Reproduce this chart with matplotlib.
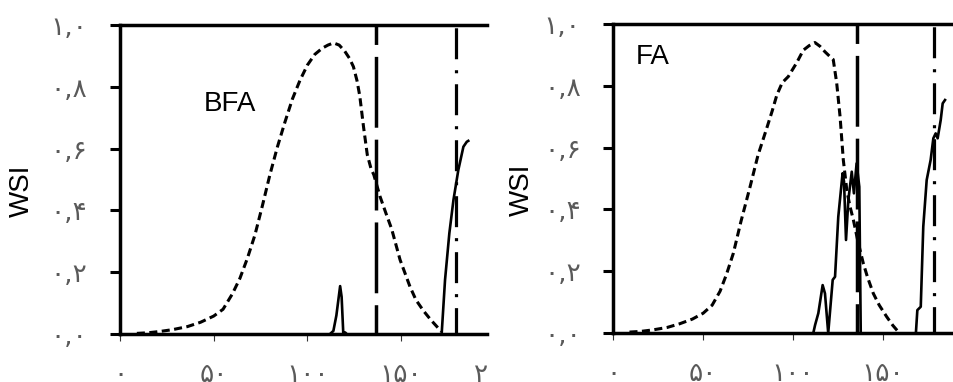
import matplotlib
matplotlib.use('Agg')
import matplotlib.pyplot as plt
from matplotlib.transforms import Bbox

plt.rcParams['lines.scale_dashes'] = False

# ---------------- data ----------------
y_ticks = [0.0, 0.2, 0.4, 0.6, 0.8, 1.0]
y_tick_labels = ['۰,۰', '۰,۲', '۰,۴', '۰,۶', '۰,۸', '۱,۰']
x_ticks = [0, 50, 100, 150]
x_tick_labels = ['۰', '۵۰', '۱۰۰', '۱۵۰']
x_extra_tick = 200
x_extra_label = '۲۰۰'
y_label = 'WSI'
panel_titles = ['BFA', 'FA']

# BFA panel
bfa_dash_x = [9, 15, 21, 28, 36, 43, 50, 55, 60, 64, 68, 72, 76, 80, 84, 88, 92, 96, 100, 104, 108,
              111, 114, 117, 120, 122.5, 124.6, 126.5, 128, 130, 132, 134, 135.5, 138.8, 142, 145,
              149.5, 154.8, 158, 162, 166, 169, 171.5]
bfa_dash_y = [0.002, 0.004, 0.008, 0.014, 0.024, 0.038, 0.058, 0.08, 0.13, 0.18, 0.245, 0.32, 0.415,
              0.515, 0.605, 0.685, 0.76, 0.82, 0.87, 0.905, 0.925, 0.935, 0.942, 0.935, 0.915, 0.892,
              0.865, 0.82, 0.77, 0.67, 0.58, 0.535, 0.515, 0.445, 0.39, 0.34, 0.24, 0.153, 0.11, 0.075,
              0.045, 0.025, 0.008]
bfa_solid1_x = [112.1, 113.9, 115.5, 117.5, 118.3, 119.2, 120.2, 121]
bfa_solid1_y = [0.0, 0.01, 0.06, 0.155, 0.12, 0.0, 0.005, 0.0]
bfa_solid2_x = [171.7, 173.5, 175.8, 178, 180.6, 183.3, 185.1, 185.9]
bfa_solid2_y = [0.0, 0.175, 0.326, 0.434, 0.531, 0.606, 0.622, 0.625]
bfa_vdash = 136.5
bfa_vdashdot = 179.4

# FA panel
fa_dash_x = [9, 15, 22, 30, 37, 44, 50, 55, 59.4, 63, 66.8, 71, 76.1, 80.5, 85.4, 88.5, 91, 94, 97.4,
             100, 102.1, 105.7, 109, 112.2, 115, 117.8, 120.5, 122.4, 124.3, 126.2, 128, 130, 131.7,
             133.6, 136, 139.1, 141.5, 144.7, 148, 152.1, 155.5, 158.6]
fa_dash_y = [0.003, 0.005, 0.01, 0.018, 0.03, 0.045, 0.064, 0.09, 0.135, 0.19, 0.258, 0.36, 0.473,
             0.575, 0.663, 0.72, 0.77, 0.81, 0.83, 0.855, 0.875, 0.915, 0.93, 0.94, 0.928, 0.91, 0.895,
             0.885, 0.81, 0.7, 0.56, 0.46, 0.41, 0.366, 0.3, 0.226, 0.18, 0.128, 0.09, 0.053, 0.025,
             0.004]
fa_solid1_x = [111.3, 112.3, 114.1, 116.5, 117.8, 119.6, 122.1, 123.4, 125.2, 127.6, 128.4, 129.5,
               130.8, 132.7, 133.9, 135.4, 136.9, 137.7]
fa_solid1_y = [0.0, 0.026, 0.064, 0.155, 0.128, 0.0, 0.172, 0.182, 0.376, 0.517, 0.49, 0.301, 0.43,
               0.522, 0.452, 0.549, 0.473, 0.0]
fa_solid2_x = [168.4, 169.2, 171.1, 172.5, 174.4, 176.6, 178.1, 179.4, 180.5, 182.2, 183.3, 184.6]
fa_solid2_y = [0.0, 0.074, 0.085, 0.344, 0.495, 0.56, 0.63, 0.646, 0.63, 0.689, 0.743, 0.754]
fa_vdash = 135.4
fa_vdashdot = 178.4

# ---------------- figure ----------------
W, H = 954, 382
fig = plt.figure(figsize=(W / 100, H / 100), dpi=100)

ax1 = fig.add_axes([120 / W, 48 / H, 367 / W, 309 / H])
ax2 = fig.add_axes([613.3 / W, 49 / H, 340.7 / W, 309 / H])

panels = [
    (ax1, 195.9, bfa_dash_x, bfa_dash_y, [(bfa_solid1_x, bfa_solid1_y), (bfa_solid2_x, bfa_solid2_y)],
     bfa_vdash, bfa_vdashdot, panel_titles[0], (0.30, 0.744), 487),
    (ax2, 189.6, fa_dash_x, fa_dash_y, [(fa_solid1_x, fa_solid1_y), (fa_solid2_x, fa_solid2_y)],
     fa_vdash, fa_vdashdot, panel_titles[1], (0.1165, 0.893), 954),
]

tick_font = ['DejaVu Sans']
tick_size = 19
label_color = '#5a5a5a'
x_pad = 15

for ax, xmax, dx, dy, solids, vd, vdd, title, tpos, clip_right in panels:
    ax.set_xlim(0, xmax)
    ax.set_ylim(0, 1.0)
    ax.spines['right'].set_visible(False)
    for side in ('left', 'top', 'bottom'):
        ax.spines[side].set_linewidth(2.5)
        ax.spines[side].set_color('black')

    ax.plot(dx, dy, color='black', lw=2.2, linestyle=(0, (5.8, 3.2)), dash_capstyle='butt')
    for sx, sy in solids:
        ax.plot(sx, sy, color='black', lw=1.9, solid_joinstyle='round')

    ax.plot([vd, vd], [1.0, 0.0], color='black', lw=2.5,
            linestyle=(37, (51, 8.6)), dash_capstyle='butt')
    ax.plot([vdd, vdd], [1.0, 0.0], color='black', lw=2.3,
            linestyle=(-2, (22.3, 7.9, 2.2, 7.9)), dash_capstyle='butt')

    ax.set_yticks(y_ticks)
    ax.set_yticklabels(y_tick_labels, family=tick_font, fontsize=tick_size, color=label_color)
    ax.set_xticks(x_ticks)
    ax.set_xticklabels(x_tick_labels, family=tick_font, fontsize=tick_size, color=label_color)
    ax.tick_params(axis='y', direction='out', length=7.5, width=2.2, pad=16, color='black')
    ax.tick_params(axis='x', direction='out', length=5, width=0.8, pad=x_pad, color='#333333')

    t = ax.annotate(x_extra_label, xy=(x_extra_tick, 0), xycoords=('data', 'axes fraction'),
                    xytext=(0, -(5 + x_pad)), textcoords='offset points', ha='center', va='top',
                    family=tick_font, fontsize=tick_size, color=label_color, annotation_clip=False)
    t.set_clip_on(True)
    t.set_clip_box(Bbox([[0, 0], [clip_right, H]]))

    ax.text(-0.267, 0.463, y_label, transform=ax.transAxes, rotation=90, ha='center', va='center',
            family=['Liberation Sans'], fontsize=20, color='black')
    ax.text(tpos[0], tpos[1], title, transform=ax.transAxes, ha='center', va='center',
            family=['Liberation Sans'], fontsize=20, color='black')

fig.savefig('out.png', dpi=100)
